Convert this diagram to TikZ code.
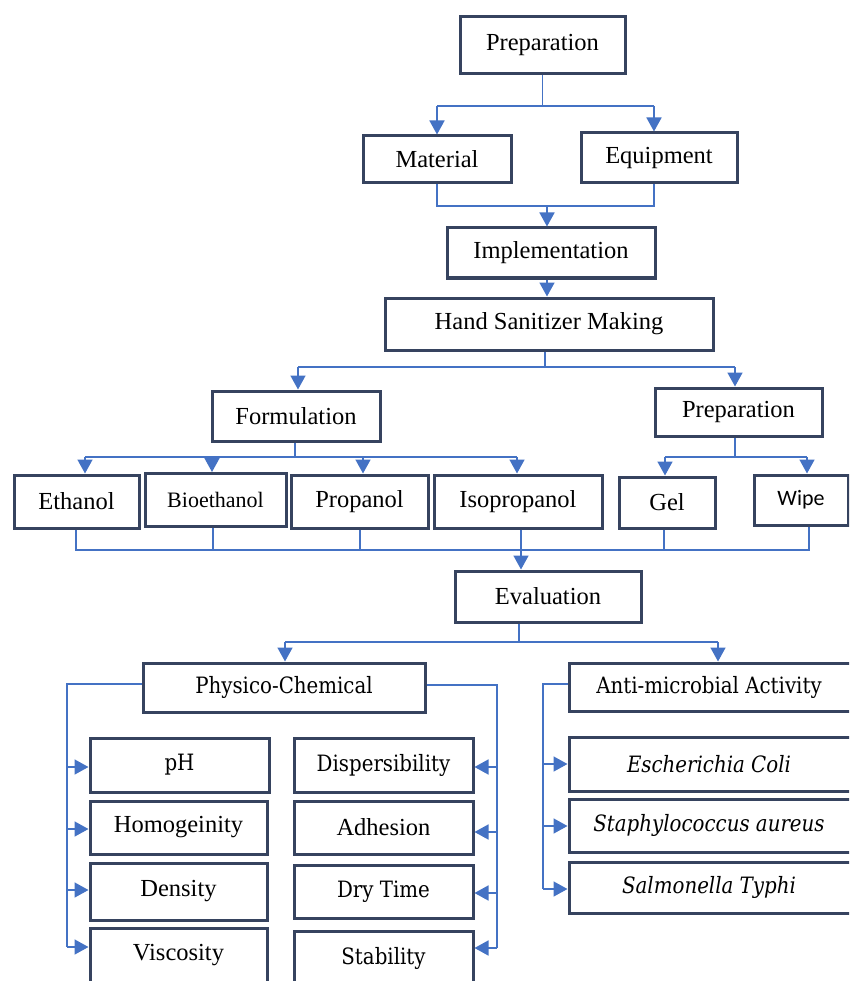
\documentclass[tikz,border=0pt]{standalone}
\usepackage{fontspec}
\setmainfont{Liberation Serif}
\newfontfamily\camb[FakeStretch=0.88]{DejaVu Serif}
\newfontfamily\calib{Carlito}
\usetikzlibrary{arrows.meta}
\definecolor{boxc}{HTML}{36435F}
\definecolor{lnc}{HTML}{4472C4}
\tikzset{
  box/.style={draw=boxc, line width=3pt, fill=white, inner sep=0pt, align=center,
    font=\fontsize{24.5}{28}\selectfont},
  cbox/.style={box, font=\camb\fontsize{22.5}{26}\selectfont},
  ibox/.style={box, font=\camb\itshape\fontsize{22.5}{26}\selectfont},
  ln/.style={draw=lnc, line width=1.6pt},
  arr/.style={draw=lnc, line width=1.6pt, -{Triangle[width=15pt,length=14pt,fill=lnc]}}
}
\begin{document}
\begin{tikzpicture}[x=1pt,y=-1pt]
\useasboundingbox (0,0) rectangle (849,981);
\clip (0,0) rectangle (849,981);
\fill[white] (0,0) rectangle (849,981);
% nodes
\node[box, minimum width=165, minimum height=57] (prep) at (542.5,45.5) {Preparation};
\node[box, minimum width=148, minimum height=47] (mat) at (437,159.5) {Material};
\node[box, minimum width=156, minimum height=50] (equip) at (659,158) {Equipment};
\node[box, minimum width=208, minimum height=50] (impl) at (551,253) {Implementation};
\node[box, minimum width=328, minimum height=52] (hsm) at (549,324) {Hand Sanitizer Making};
\node[box, minimum width=168, minimum height=50] (form) at (296,416) {Formulation};
\node[box, minimum width=167, minimum height=48] (prep2) at (738.5,412) {Preparation};
\node[box, minimum width=125, minimum height=53] (eth) at (76.5,501.5) {Ethanol};
\node[box, minimum width=141, minimum height=53, font=\fontsize{22}{26}\selectfont] (bio) at (215.5,500) {Bioethanol};
\node[box, minimum width=137, minimum height=53] (prop) at (359.5,501.5) {Propanol};
\node[box, minimum width=168, minimum height=53] (iso) at (518,501.5) {Isopropanol};
\node[box, minimum width=96, minimum height=51] (gel) at (667,502.5) {Gel};
\node[box, minimum width=94, minimum height=50, font=\calib\fontsize{22}{26}\selectfont] (wipe) at (801,500) {Wipe};
\node[box, minimum width=186, minimum height=51] (eval) at (548,596.5) {Evaluation};
\node[cbox, minimum width=282, minimum height=49] (pc) at (284,687.5) {Physico-Chemical};
\node[cbox, minimum width=301, minimum height=48] (am) at (719.5,687) {Anti-microbial Activity\hspace*{21pt}};
\node[ibox, minimum width=301, minimum height=54] (ec) at (719.5,764) {Escherichia Coli\hspace*{21pt}};
\node[ibox, minimum width=301, minimum height=53] (sa) at (719.5,825.5) {Staphylococcus aureus\hspace*{21pt}};
\node[ibox, minimum width=301, minimum height=51] (st) at (719.5,887.5) {Salmonella Typhi\hspace*{21pt}};
\node[cbox, minimum width=179, minimum height=54] (ph) at (179.5,765) {pH};
\node[box, minimum width=177, minimum height=53] (hom) at (178.5,827.5) {Homogeinity};
\node[box, minimum width=177, minimum height=57] (den) at (178.5,891.5) {Density};
\node[box, minimum width=177, minimum height=54] (visc) at (178.5,955) {Viscosity};
\node[cbox, minimum width=179, minimum height=54] (disp) at (383.5,765) {Dispersibility};
\node[box, minimum width=179, minimum height=53] (adh) at (383.5,827.5) {Adhesion};
\node[cbox, minimum width=179, minimum height=53] (dry) at (383.5,891.5) {Dry Time};
\node[cbox, minimum width=179, minimum height=54] (stab) at (383.5,958) {Stability};
% junction coordinates
\coordinate (a1) at (542.5,106);
\coordinate (a1l) at (437,106);
\coordinate (a1r) at (654,106);
\coordinate (b1) at (547,206);
\coordinate (b1r) at (654,206);
\coordinate (c1) at (545,367);
\coordinate (c1l) at (298,367);
\coordinate (c1r) at (735,367);
\coordinate (d1) at (295,457);
\coordinate (d1a) at (85,457);
\coordinate (d1b) at (212,457);
\coordinate (d1c) at (363,457);
\coordinate (d1d) at (517,457);
\coordinate (e1) at (735,457);
\coordinate (e1a) at (665,457);
\coordinate (e1b) at (807,457);
\coordinate (fa) at (76,550);
\coordinate (fb) at (213,550);
\coordinate (fc) at (360,550);
\coordinate (fd) at (521,550);
\coordinate (fe) at (664,550);
\coordinate (ff) at (809,550);
\coordinate (g1) at (519,642);
\coordinate (g1l) at (285,642);
\coordinate (g1r) at (718,642);
\coordinate (hl0) at (67,684);
\coordinate (hl1) at (67,767);
\coordinate (hl2) at (67,829);
\coordinate (hl3) at (67,890);
\coordinate (hl4) at (67,947);
\coordinate (hr0) at (497,685);
\coordinate (hr1) at (497,767);
\coordinate (hr2) at (497,832);
\coordinate (hr3) at (497,893);
\coordinate (hr4) at (497,948);
\coordinate (ha0) at (543,684);
\coordinate (ha1) at (543,764);
\coordinate (ha2) at (543,826);
\coordinate (ha3) at (543,889);
% connectors: top
\draw[ln] (prep.south) -- (a1);
\draw[ln] (a1l) -- (a1r);
\draw[arr] (a1l) -- (mat.north);
\draw[arr] (a1r) -- (a1r |- equip.north);
\draw[ln] (mat.south) |- (b1r) -- (b1r |- equip.south);
\draw[arr] (b1) -- (b1 |- impl.north);
\draw[arr] (b1 |- impl.south) -- (b1 |- hsm.north);
\draw[ln] (c1 |- hsm.south) -- (c1);
\draw[ln] (c1l) -- (c1r);
\draw[arr] (c1l) -- (c1l |- form.north);
\draw[arr] (c1r) -- (c1r |- prep2.north);
% formulation branch
\draw[ln] (d1 |- form.south) -- (d1);
\draw[ln] (d1a) -- (d1d);
\draw[arr] (d1a) -- (d1a |- eth.north);
\draw[arr] (d1b) -- (d1b |- bio.north);
\draw[arr] (d1c) -- (d1c |- prop.north);
\draw[arr] (d1d) -- (d1d |- iso.north);
% preparation branch
\draw[ln] (e1 |- prep2.south) -- (e1);
\draw[ln] (e1a) -- (e1b);
\draw[arr] (e1a) -- (e1a |- gel.north);
\draw[arr] (e1b) -- (e1b |- wipe.north);
% collection to evaluation
\draw[ln] (fa |- eth.south) -- (fa) -- (ff) -- (ff |- wipe.south);
\draw[ln] (fb |- bio.south) -- (fb);
\draw[ln] (fc |- prop.south) -- (fc);
\draw[ln] (fe |- gel.south) -- (fe);
\draw[arr] (fd |- iso.south) -- (fd |- eval.north);
% evaluation branch
\draw[ln] (g1 |- eval.south) -- (g1);
\draw[ln] (g1l) -- (g1r);
\draw[arr] (g1l) -- (g1l |- pc.north);
\draw[arr] (g1r) -- (g1r |- am.north);
% physico-chemical left
\draw[ln] (hl0 -| pc.west) -- (hl0) -- (hl4);
\draw[arr] (hl1) -- (hl1 -| ph.west);
\draw[arr] (hl2) -- (hl2 -| hom.west);
\draw[arr] (hl3) -- (hl3 -| den.west);
\draw[arr] (hl4) -- (hl4 -| visc.west);
% physico-chemical right
\draw[ln] (hr0 -| pc.east) -- (hr0) -- (hr4);
\draw[arr] (hr1) -- (hr1 -| disp.east);
\draw[arr] (hr2) -- (hr2 -| adh.east);
\draw[arr] (hr3) -- (hr3 -| dry.east);
\draw[arr] (hr4) -- (hr4 -| stab.east);
% anti-microbial
\draw[ln] (ha0 -| am.west) -- (ha0) -- (ha3);
\draw[arr] (ha1) -- (ha1 -| ec.west);
\draw[arr] (ha2) -- (ha2 -| sa.west);
\draw[arr] (ha3) -- (ha3 -| st.west);
\end{tikzpicture}
\end{document}
